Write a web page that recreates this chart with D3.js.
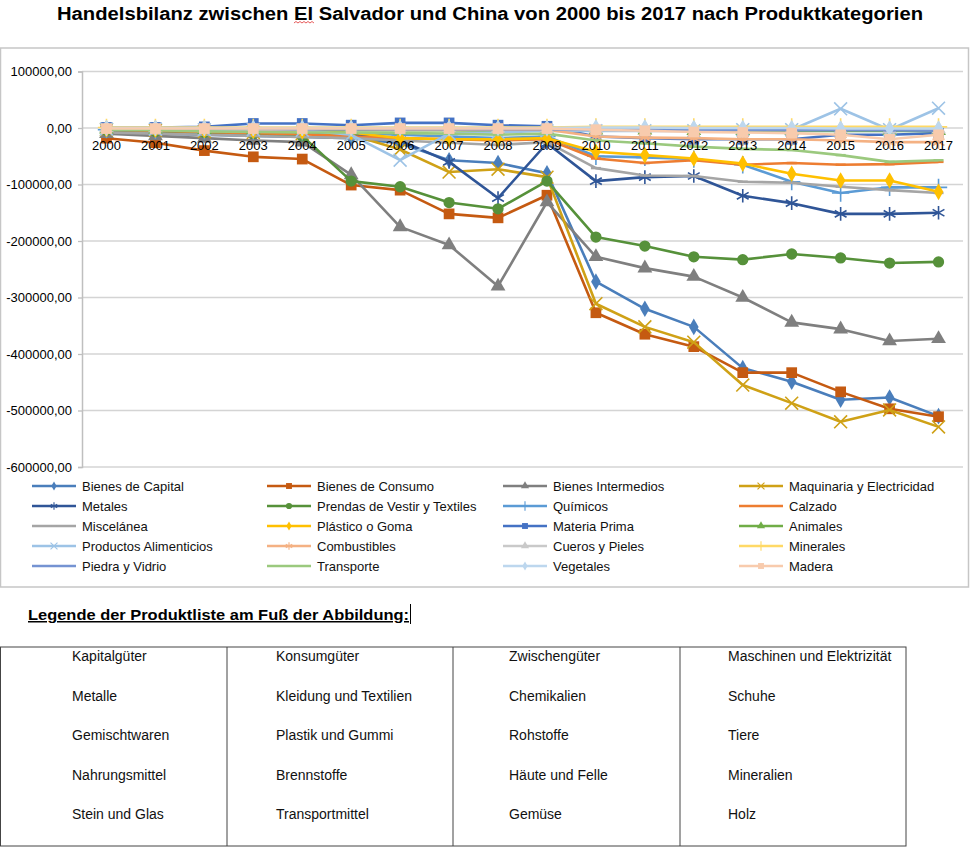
<!DOCTYPE html>
<html><head><meta charset="utf-8">
<script src="https://cdn.jsdelivr.net/npm/d3@7"></script>
<style>body{margin:0;background:#fff}svg{display:block}text{font-family:"Liberation Sans",Arial,sans-serif}</style>
</head><body><svg id="c" width="980" height="849"></svg>
<script>
// ---------- DATA ----------
const titleText = "Handelsbilanz zwischen El Salvador und China von 2000 bis 2017 nach Produktkategorien";
const years = ["2000","2001","2002","2003","2004","2005","2006","2007","2008","2009","2010","2011","2012","2013","2014","2015","2016","2017"];
const yTicks = [100000, 0, -100000, -200000, -300000, -400000, -500000, -600000];

const seriesNames = ["Bienes de Capital","Bienes de Consumo","Bienes Intermedios","Maquinaria y Electricidad",
  "Metales","Prendas de Vestir y Textiles","Químicos","Calzado",
  "Miscelánea","Plástico o Goma","Materia Prima","Animales",
  "Productos Alimenticios","Combustibles","Cueros y Pieles","Minerales",
  "Piedra y Vidrio","Transporte","Vegetales","Madera"];

const capital      = [-8000,-10000,-12000,-14000,-16000,-18000,-27000,-57000,-62000,-80000,-272000,-320000,-352000,-425000,-449000,-481000,-477000,-510000];
const consumo      = [-18000,-26000,-40000,-51000,-55000,-101000,-110000,-152000,-159000,-119000,-327000,-365000,-387000,-433000,-433000,-467000,-497000,-511000];
const intermedios  = [-10000,-14000,-18000,-22000,-25000,-83000,-175000,-207000,-280000,-131000,-228000,-248000,-263000,-300000,-344000,-356000,-377000,-373000];
const maquinaria   = [-3000,-4000,-6000,-8000,-10000,-12000,-38000,-78000,-73000,-87000,-311000,-352000,-379000,-455000,-487000,-520000,-499000,-529000];
const metales      = [-2000,-3000,-4000,-5000,-6000,-10000,-22000,-60000,-124000,-27000,-94000,-87000,-85000,-120000,-133000,-152000,-152000,-150000];
const prendas      = [-4000,-6000,-8000,-10000,-14000,-94000,-104000,-132000,-143000,-94000,-193000,-209000,-228000,-233000,-223000,-230000,-239000,-237000];
const quimicos     = [-3000,-4000,-5000,-6000,-7000,-9000,-12000,-15000,-18000,-15000,-50000,-52000,-55000,-65000,-95000,-115000,-105000,-105000];
const calzado      = [-3000,-5000,-7000,-9000,-11000,-15000,-18000,-20000,-22000,-20000,-54000,-62000,-57000,-65000,-62000,-65000,-64000,-60000];
const miscelanea   = [-8000,-10000,-12000,-14000,-16000,-18000,-22000,-26000,-30000,-25000,-71000,-84000,-85000,-95000,-97000,-104000,-110000,-115000];
const plastico     = [-2000,-3000,-4000,-5000,-6000,-8000,-18000,-20000,-20000,-18000,-42000,-48000,-54000,-63000,-81000,-93000,-93000,-113000];
const materiaPrima = [1000,1000,2000,8000,8000,5000,9000,9000,5000,3000,-15000,-18000,-20000,-20000,-20000,-12000,-12000,-9000];
const animales     = [-2000,-2000,-3000,-3000,-3000,-4000,-4000,-4000,-5000,-4000,-4000,-4000,-5000,-5000,-5000,-5000,-5000,-5000];
const alimenticios = [-2000,-2000,-3000,-3000,-4000,-12000,-57000,-10000,-8000,-5000,-5000,-5000,-5000,-3000,-3000,34000,-3000,35000];
const combustibles = [-1000,-1000,-1000,-2000,-2000,-2000,-3000,-3000,-3000,-3000,-15000,-17000,-18000,-20000,-20000,-22000,-25000,-25000];
const cueros       = [0,0,0,-1000,-1000,-1000,-1000,-1000,-1000,-1000,-1000,-1000,-1000,-2000,-2000,-2000,-2000,-2000];
const minerales    = [1000,1000,1000,1000,1000,1000,1000,1000,1000,1000,2000,2000,2000,2000,2000,2000,2000,2000];
const piedra       = [-1000,-1000,-1000,-1000,-2000,-2000,-2000,-2000,-2000,-2000,-3000,-3000,-3000,-4000,-4000,-4000,-4000,-5000];
const transporte   = [-3000,-4000,-6000,-7000,-8000,-8000,-9000,-10000,-12000,-10000,-22000,-27000,-33000,-37000,-39000,-48000,-60000,-57000];
const vegetales    = [0,0,0,0,0,0,0,0,0,0,1000,1000,0,0,0,-1000,-1000,-1000];
const madera       = [-1000,-1000,-1000,-1000,-1000,-1000,-1000,-1000,-1000,-1000,-3000,-5000,-7000,-8000,-9000,-12000,-20000,-12000];

const seriesValues = [capital, consumo, intermedios, maquinaria, metales, prendas, quimicos, calzado,
  miscelanea, plastico, materiaPrima, animales, alimenticios, combustibles, cueros, minerales,
  piedra, transporte, vegetales, madera];

const seriesColors = ["#4a7ebb","#c55a11","#7f7f7f","#cfa116","#2f5597","#56913a","#5b9bd5","#ed7d31",
  "#a5a5a5","#ffc000","#4472c4","#70ad47","#9dc3e6","#f4b183","#c9c9c9","#ffd966",
  "#7593d2","#9bc97e","#bdd7ee","#f8cbad"];
const seriesMarkers = ["diamond","square","triangle","x","asterisk","circle","plus","dash",
  "dash","diamond","square","triangle","x","asterisk","triangle","plus",
  "dash","dash","diamond","square"];

const legendTitle = "Legende der Produktliste am Fuß der Abbildung:";
const tableCol1 = ["Kapitalgüter","Metalle","Gemischtwaren","Nahrungsmittel","Stein und Glas"];
const tableCol2 = ["Konsumgüter","Kleidung und Textilien","Plastik und Gummi","Brennstoffe","Transportmittel"];
const tableCol3 = ["Zwischengüter","Chemikalien","Rohstoffe","Häute und Felle","Gemüse"];
const tableCol4 = ["Maschinen und Elektrizität","Schuhe","Tiere","Mineralien","Holz"];

// ---------- DRAW ----------
const svg = d3.select("#c");

// title
const title = svg.append("text").attr("x", 490).attr("y", 20).attr("text-anchor", "middle")
  .attr("font-size", 18).attr("font-weight", "bold").attr("fill", "#000")
  .attr("textLength", 866).attr("lengthAdjust", "spacingAndGlyphs").text(titleText);
{
  const node = title.node();
  const idx = titleText.indexOf("El ");
  const s = node.getStartPositionOfChar(idx).x, e = node.getEndPositionOfChar(idx + 1).x;
  let p = "M" + s + ",23";
  for (let xx = s, k = 0; xx < e; xx += 2, k++) p += "L" + (xx + 2) + "," + (k % 2 ? 23 : 21.5);
  svg.append("path").attr("d", p).attr("fill", "none").attr("stroke", "#e03030").attr("stroke-width", 0.8);
}

// chart frame
svg.append("rect").attr("x", 0.5).attr("y", 48).attr("width", 968).attr("height", 539)
  .attr("fill", "none").attr("stroke", "#c6c6c6").attr("stroke-width", 1.5);

const plotL = 82, plotR = 963;
const x = d3.scalePoint().domain(years).range([plotL, plotR]).padding(0.5);
const y = d3.scaleLinear().domain([-600000, 100000]).range([467, 71.5]);

// gridlines
svg.append("g").selectAll("line").data(yTicks).join("line")
  .attr("x1", plotL).attr("x2", plotR).attr("y1", d => y(d)).attr("y2", d => y(d))
  .attr("stroke", "#d4d4d4").attr("stroke-width", 1.3);

// y axis
const fmt = v => v.toFixed(2).replace(".", ",");
const ya = svg.append("g").attr("transform", `translate(${plotL},0)`)
  .call(d3.axisLeft(y).tickValues(yTicks).tickSize(4).tickPadding(6).tickFormat(fmt));
ya.select(".domain").attr("stroke", "#bfbfbf").attr("stroke-width", 1.5);
ya.selectAll(".tick line").attr("stroke", "#bfbfbf").attr("stroke-width", 1.3);
ya.selectAll("text").attr("font-size", 13).attr("fill", "#000").attr("font-family", '"Liberation Sans",Arial,sans-serif');

// markers
function drawMarker(g, type, color, cx, cy, scale) {
  const sz = scale;
  if (type === "dash") {
    g.append("rect").attr("x", cx - 5 * sz).attr("y", cy - 1.2 * sz).attr("width", 10 * sz).attr("height", 2.4 * sz).attr("fill", color);
    return;
  }
  const map = {diamond: [d3.symbolDiamond, 80], square: [d3.symbolSquare, 115], triangle: [d3.symbolTriangle, 95],
    circle: [d3.symbolCircle, 100], x: [d3.symbolX, 110], asterisk: [d3.symbolAsterisk, 130], plus: [d3.symbolPlus, 100]};
  const [sym, size] = map[type];
  const stroke = (type === "x" || type === "asterisk" || type === "plus");
  g.append("path").attr("d", d3.symbol(sym, size * sz * sz)())
    .attr("transform", `translate(${cx},${cy})`)
    .attr("fill", stroke ? "none" : color).attr("stroke", stroke ? color : "none").attr("stroke-width", 1.6 * Math.max(sz, 0.7));
}

const line = d3.line().x((d, i) => x(years[i])).y(d => y(d));
const seriesG = svg.append("g");
seriesValues.forEach((vals, si) => {
  const g = seriesG.append("g");
  g.append("path").attr("d", line(vals)).attr("fill", "none").attr("stroke", seriesColors[si])
    .attr("stroke-width", 2.6).attr("stroke-linejoin", "round");
  vals.forEach((v, i) => drawMarker(g, seriesMarkers[si], seriesColors[si], x(years[i]), y(v), 1));
});

// x labels at zero line
svg.append("g").selectAll("text").data(years).join("text")
  .attr("x", d => x(d)).attr("y", y(0) + 22).attr("text-anchor", "middle")
  .attr("font-size", 13).attr("fill", "#000").text(d => d);

// legend
const legX = [32, 267, 503, 739];
const legY = [486, 506, 526, 546, 566];
const lg = svg.append("g");
seriesNames.forEach((name, i) => {
  const cx = legX[i % 4], cy = legY[Math.floor(i / 4)];
  const g = lg.append("g");
  g.append("line").attr("x1", cx).attr("x2", cx + 44).attr("y1", cy).attr("y2", cy)
    .attr("stroke", seriesColors[i]).attr("stroke-width", 2.6);
  drawMarker(g, seriesMarkers[i], seriesColors[i], cx + 22, cy, 0.55);
  g.append("text").attr("x", cx + 50).attr("y", cy + 4.5).attr("font-size", 13).attr("fill", "#111").text(name);
});

// lower legend title
svg.append("text").attr("x", 28).attr("y", 620).attr("font-size", 15).attr("font-weight", "bold")
  .attr("text-decoration", "underline").attr("textLength", 381).attr("lengthAdjust", "spacingAndGlyphs")
  .attr("fill", "#000").text(legendTitle);
svg.append("line").attr("x1", 410.5).attr("x2", 410.5).attr("y1", 604).attr("y2", 624).attr("stroke", "#000").attr("stroke-width", 1);

// table
const tbl = svg.append("g");
const colX = [0.5, 227, 453, 680, 906];
tbl.append("rect").attr("x", colX[0]).attr("y", 647).attr("width", colX[4] - colX[0]).attr("height", 199)
  .attr("fill", "none").attr("stroke", "#444").attr("stroke-width", 1);
[1, 2, 3].forEach(k => tbl.append("line").attr("x1", colX[k]).attr("x2", colX[k]).attr("y1", 647).attr("y2", 846)
  .attr("stroke", "#444").attr("stroke-width", 1));
const textX = [72, 276, 509, 728];
const rowY = [656, 696, 735, 775, 814];
[tableCol1, tableCol2, tableCol3, tableCol4].forEach((col, ci) => {
  col.forEach((t, ri) => {
    tbl.append("text").attr("x", textX[ci]).attr("y", rowY[ri] + 5).attr("font-size", 14)
      .attr("fill", "#111").text(t);
  });
});
</script></body></html>
